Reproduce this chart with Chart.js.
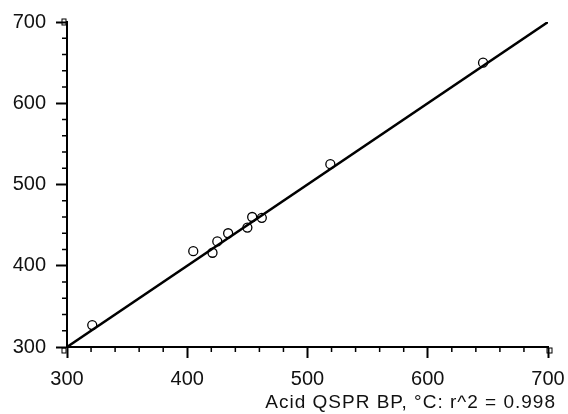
<!DOCTYPE html>
<html>
<head>
<meta charset="utf-8">
<script src="https://cdn.jsdelivr.net/npm/chart.js@4"></script>
<style>
  html, body { margin: 0; padding: 0; background: #fff; }
  #wrap { width: 568px; height: 414px; }
</style>
</head>
<body>
<div id="wrap"><canvas id="bpChart" width="568" height="414"></canvas></div>
<script>
// experimental vs QSPR boiling points of the acids
const qsprBP = [321, 405, 421, 425, 434, 450, 454, 462, 519, 646];
const exptBP = [327, 418, 416, 430, 440, 447, 460, 459, 525, 650];
// regression line
const fitX = [300, 700];
const fitY = [300, 700];
const axisTicks = [300, 400, 500, 600, 700];
const axisTitle = 'Acid QSPR BP, \u00B0C: r^2 = 0.998';

const FONT = 'Liberation Sans, Arial, Helvetica, sans-serif';

// minor ticks every 20, small boxes at the axis ends, and the axis caption
const axisExtras = {
  id: 'axisExtras',
  afterDraw(chart) {
    const ctx = chart.ctx;
    const xs = chart.scales.x, ys = chart.scales.y;
    const area = chart.chartArea;
    ctx.save();
    ctx.strokeStyle = '#000';
    ctx.lineWidth = 1.5;
    ctx.beginPath();
    for (let v = 300; v <= 700; v += 20) {
      if (v % 100 === 0) continue;
      const px = xs.getPixelForValue(v);
      ctx.moveTo(px, area.bottom);
      ctx.lineTo(px, area.bottom + 5);
      const py = ys.getPixelForValue(v);
      ctx.moveTo(area.left, py);
      ctx.lineTo(area.left - 5, py);
    }
    ctx.stroke();

    ctx.lineWidth = 1;
    ctx.strokeRect(area.left - 5, ys.getPixelForValue(700) - 3, 4, 6);
    ctx.strokeRect(xs.getPixelForValue(700) - 1, area.bottom + 1, 5, 5);
    ctx.strokeRect(area.left - 5, area.bottom + 1, 4, 5);

    ctx.fillStyle = '#111';
    ctx.font = '19px ' + FONT;
    ctx.letterSpacing = '1px';
    ctx.textAlign = 'right';
    ctx.textBaseline = 'middle';
    ctx.fillText(axisTitle, 556, 403);
    ctx.restore();
  }
};

new Chart(document.getElementById('bpChart'), {
  type: 'scatter',
  data: {
    datasets: [
      {
        label: 'fit',
        type: 'line',
        data: fitX.map((x, i) => ({ x: x, y: fitY[i] })),
        borderColor: '#000',
        borderWidth: 2.5,
        pointRadius: 0,
        fill: false
      },
      {
        label: 'acids',
        data: qsprBP.map((x, i) => ({ x: x, y: exptBP[i] })),
        pointStyle: 'circle',
        pointRadius: 4.5,
        borderColor: '#000',
        borderWidth: 1.3,
        backgroundColor: 'rgba(255,255,255,0)'
      }
    ]
  },
  options: {
    responsive: false,
    animation: false,
    layout: { padding: { top: 22, right: 20, left: 0, bottom: 0 } },
    plugins: { legend: { display: false }, tooltip: { enabled: false } },
    scales: {
      x: {
        type: 'linear',
        min: 300,
        max: 700,
        afterFit(scale) {
          scale.height = 67;
          scale.paddingLeft = 0;
          scale.paddingRight = 0;
        },
        afterBuildTicks(scale) { scale.ticks = axisTicks.map(v => ({ value: v })); },
        border: { display: true, color: '#000', width: 2 },
        grid: { drawOnChartArea: false, color: '#000', tickLength: 11, tickWidth: 2 },
        ticks: { color: '#111', padding: 9, maxRotation: 0, font: { family: FONT, size: 20 } }
      },
      y: {
        type: 'linear',
        min: 300,
        max: 700,
        afterFit(scale) {
          scale.width = 67;
          scale.paddingTop = 0;
          scale.paddingBottom = 0;
        },
        afterBuildTicks(scale) { scale.ticks = axisTicks.map(v => ({ value: v })); },
        border: { display: true, color: '#000', width: 2 },
        grid: { drawOnChartArea: false, color: '#000', tickLength: 11, tickWidth: 2 },
        ticks: { color: '#111', padding: 10, font: { family: FONT, size: 20 } }
      }
    }
  },
  plugins: [axisExtras]
});
</script>
</body>
</html>
